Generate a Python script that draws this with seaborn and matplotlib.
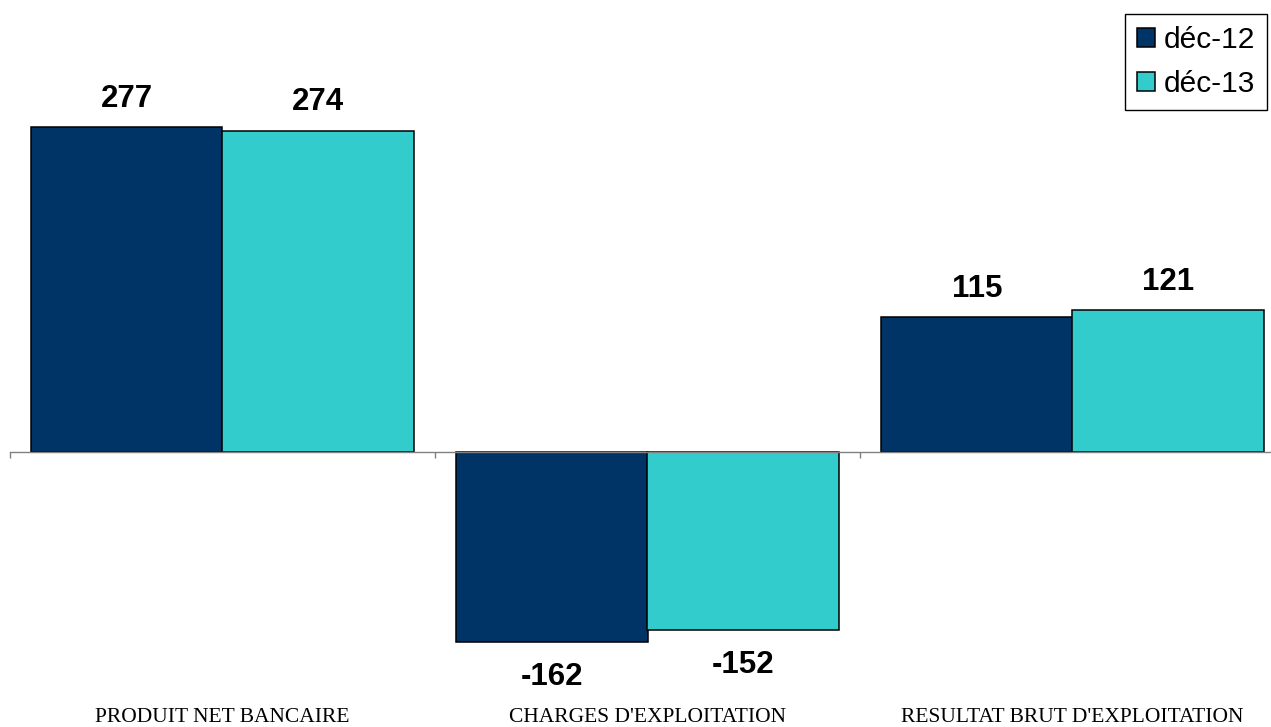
import matplotlib
matplotlib.use("Agg")
import matplotlib.pyplot as plt
import seaborn as sns
import pandas as pd

categories = ["PRODUIT NET BANCAIRE", "CHARGES D'EXPLOITATION", "RESULTAT BRUT D'EXPLOITATION"]
series_names = ["déc-12", "déc-13"]
values_dec12 = [277, -162, 115]
values_dec13 = [274, -152, 121]
colors = ["#003366", "#33CCCC"]

df = pd.DataFrame({
    "cat": categories * 2,
    "series": [series_names[0]] * 3 + [series_names[1]] * 3,
    "val": values_dec12 + values_dec13,
})

sns.set_style("white")
plt.rcParams["font.family"] = ["Liberation Sans", "DejaVu Sans"]
plt.rcParams["text.color"] = "black"

W, H = 1271, 727
fig = plt.figure(figsize=(W / 100, H / 100), dpi=100)
ax = fig.add_axes([10 / W, 0, (W - 10) / W, 1])

sns.barplot(data=df, x="cat", y="val", hue="series", palette=colors,
            width=0.9, edgecolor="black", linewidth=1.1, ax=ax,
            saturation=1, legend=True)

ax.set_xlim(-0.5, -0.5 + (W - 10) / 425)
ax.set_ylim(-(H - 452) / 1.173, 452 / 1.173)

for s in ["top", "right", "left"]:
    ax.spines[s].set_visible(False)
ax.spines["bottom"].set_position(("data", 0))
ax.spines["bottom"].set_color("#808080")
ax.spines["bottom"].set_linewidth(1)
ax.set_yticks([])
ax.set_xticks([-0.5, 0.5, 1.5])
ax.set_xticklabels([])
ax.tick_params(axis="x", direction="out", length=4.5, width=1, color="#808080", bottom=True)
ax.set_xlabel("")
ax.set_ylabel("")

for i, c in enumerate(categories):
    ax.text(i, 5 / H, c, transform=ax.get_xaxis_transform(), ha="center", va="baseline",
            fontsize=15.5, family=["Liberation Serif", "DejaVu Serif"], color="black")

for cont in ax.containers:
    for bar in cont:
        h = bar.get_height()
        x = bar.get_x() + bar.get_width() / 2
        if h >= 0:
            ax.annotate(f"{h:.0f}", (x, h), xytext=(0, 14.8), textcoords="offset points",
                        ha="center", va="baseline", fontsize=22.5, fontweight="bold",
                        color="black")
        else:
            ax.annotate(f"{h:.0f}", (x, h), xytext=(0, -31), textcoords="offset points",
                        ha="center", va="baseline", fontsize=22.5, fontweight="bold",
                        color="black")

handles, labels = ax.get_legend_handles_labels()
ax.get_legend().remove()
leg = fig.legend(handles, labels, loc="upper right", bbox_to_anchor=(1267 / W, 1 - 14 / H),
                 fontsize=21.5, frameon=True, fancybox=False, framealpha=1,
                 handlelength=0.6, handleheight=0.6, handletextpad=0.3,
                 borderpad=0.4, labelspacing=0.55, borderaxespad=0, labelcolor="black")
leg.get_frame().set_edgecolor("black")
leg.get_frame().set_linewidth(1)

fig.savefig("out.png", dpi=100)
